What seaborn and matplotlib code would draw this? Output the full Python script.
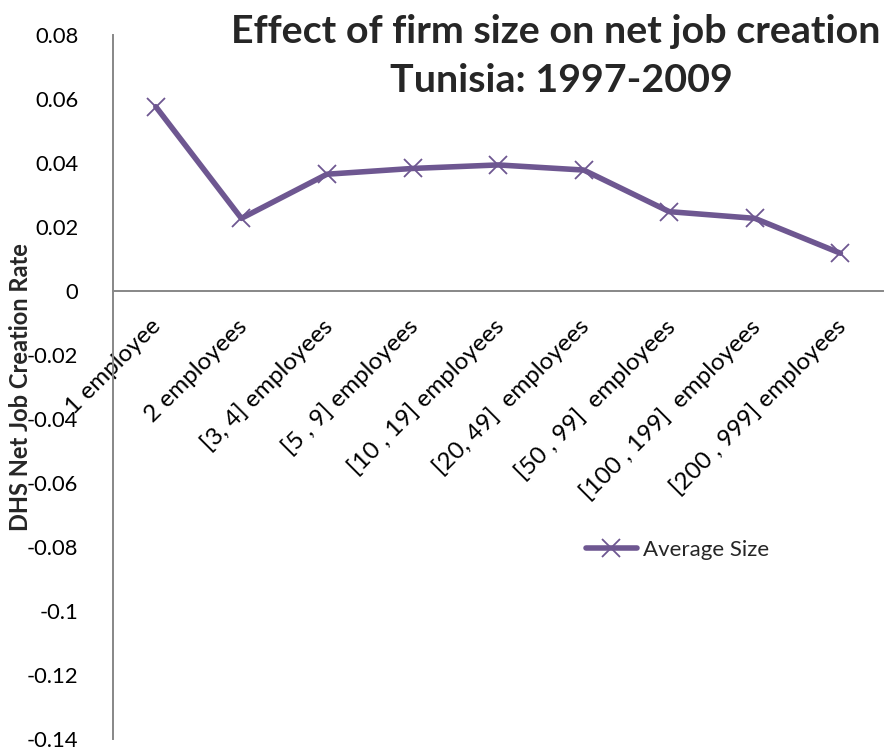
import matplotlib
matplotlib.use("Agg")
import matplotlib.pyplot as plt
import matplotlib.transforms as mtransforms
import seaborn as sns
import pandas as pd

# Firm size classes and their average net job creation rate
size_classes = ["1 employee", "2 employees", "[3, 4] employees", "[5 , 9] employees",
                "[10 , 19] employees", "[20, 49]  employees", "[50 , 99]  employees",
                "[100 , 199]  employees", "[200 , 999] employees"]
net_job_rate = [0.0576, 0.0227, 0.0365, 0.0383, 0.0394, 0.0378, 0.0248, 0.0227, 0.0118]
y_ticks = [0.08, 0.06, 0.04, 0.02, 0, -0.02, -0.04, -0.06, -0.08, -0.1, -0.12, -0.14]
y_tick_labels = ["0.08", "0.06", "0.04", "0.02", "0", "-0.02", "-0.04", "-0.06",
                 "-0.08", "-0.1", "-0.12", "-0.14"]
series_name = "Average Size"

df = pd.DataFrame({"size": size_classes, "rate": net_job_rate})

sns.set_style("white")
plt.rcParams["font.family"] = ["Lato", "DejaVu Sans"]

LINE = "#6E5791"
AXIS = "#878787"

fig = plt.figure(figsize=(8.85, 7.53), dpi=100)
ax = fig.add_axes([0.1277, 0.0186, 0.8703, 0.9349])

sns.lineplot(data=df, x="size", y="rate", ax=ax, color=LINE, linewidth=4.0,
             marker="x", markersize=13, markeredgewidth=1.3, markeredgecolor=LINE,
             label=series_name, sort=False)

ax.set_xlim(-0.5, len(size_classes) - 0.5)
ax.set_ylim(-0.14, 0.08)
ax.tick_params(axis="y", length=0, pad=25, labelsize=15.8, colors="black")
ax.tick_params(axis="x", length=0, pad=23, labelsize=17.5, colors="black")
ax.set_yticks(y_ticks)
ax.set_yticklabels(y_tick_labels)

ax.set_xticks(range(len(size_classes)))
ax.set_xticklabels(size_classes)

for side in ["top", "right"]:
    ax.spines[side].set_visible(False)
ax.spines["bottom"].set_position(("data", 0))
ax.spines["left"].set_color(AXIS)
ax.spines["bottom"].set_color(AXIS)
ax.spines["left"].set_linewidth(1.4)
ax.spines["bottom"].set_linewidth(1.4)
ax.grid(False)

ax.set_xlabel("")
ax.set_ylabel("DHS Net Job Creation Rate", fontsize=17, fontweight="bold",
              labelpad=0, va="baseline")
ax.yaxis.set_label_coords((28 - 113) / 770, 0.5)

fig.text(0.628, 0.958, "Effect of firm size on net job creation", ha="center",
         va="center", fontsize=28.4, fontweight="bold")
fig.text(0.634, 0.893, "Tunisia: 1997-2009", ha="center", va="center",
         fontsize=28.4, fontweight="bold")

leg = ax.legend(loc="center left", bbox_to_anchor=(577 / 885, 1 - 550 / 753),
                bbox_transform=fig.transFigure, frameon=False, fontsize=16,
                handlelength=2.3, handletextpad=0.25, borderaxespad=0)

# Slanted category labels, nudged so their ends sit by each point
fig.canvas.draw()
shift = mtransforms.ScaledTranslation(2 / 100, 0, fig.dpi_scale_trans)
for lab in ax.get_xticklabels():
    lab.set_rotation(45)
    lab.set_ha("right")
    lab.set_va("center")
    lab.set_rotation_mode("anchor")
    lab.set_transform(lab.get_transform() + shift)

fig.savefig("out.png", dpi=100)
